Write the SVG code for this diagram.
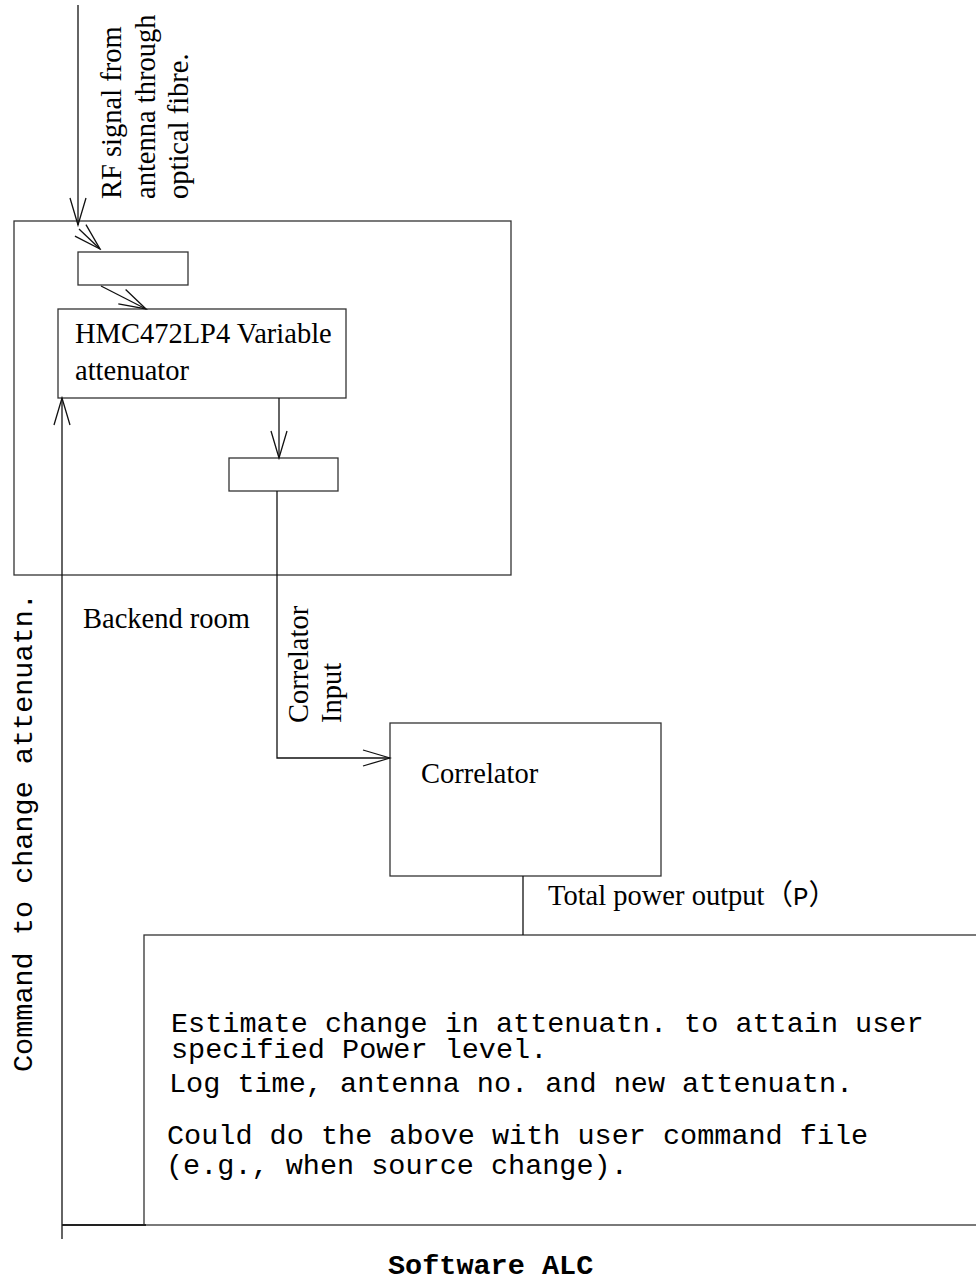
<svg xmlns="http://www.w3.org/2000/svg" width="976" height="1282" viewBox="0 0 976 1282">
<style>
.box{fill:none;stroke:#333;stroke-width:1.3}
.ln{fill:none;stroke:#111;stroke-width:1.3}
.serif{font-family:"Liberation Serif","Times New Roman",serif;font-size:28.5px;fill:#000}
.mono{font-family:"Liberation Mono","Courier New",monospace;font-size:28.5px;fill:#000}
.bold{font-weight:bold}
</style>
<defs>
<marker id="arr" markerUnits="userSpaceOnUse" markerWidth="30" markerHeight="18" viewBox="0 0 30 18" refX="28" refY="9" orient="auto">
<path d="M1,1 L28,9 L1,17" fill="none" stroke="#111" stroke-width="1.3"/>
</marker>
</defs>
<rect width="976" height="1282" fill="#fff"/>

<g id="backend-room">
<rect class="box" x="14" y="221" width="497" height="354"/>
<text class="serif" x="83" y="628">Backend room</text>
</g>

<g id="input-block">
<rect class="box" x="78" y="252" width="110" height="33"/>
</g>

<g id="attenuator">
<rect class="box" x="58" y="309" width="288" height="89"/>
<text class="serif" x="75" y="343">HMC472LP4 Variable</text>
<text class="serif" x="75" y="380">attenuator</text>
</g>

<g id="output-block">
<rect class="box" x="229" y="458" width="109" height="33"/>
</g>

<g id="correlator">
<rect class="box" x="390" y="723" width="271" height="153"/>
<text class="serif" x="421" y="783">Correlator</text>
</g>

<g id="software-alc">
<rect class="box" x="144" y="935" width="840" height="290"/>
<text class="mono"><tspan x="171" y="1032">Estimate change in attenuatn. to attain user</tspan><tspan x="171" y="1058">specified Power level.</tspan></text>
<text class="mono" x="169" y="1092">Log time, antenna no. and new attenuatn.</text>
<text class="mono"><tspan x="167" y="1144">Could do the above with user command file</tspan><tspan x="166" y="1174">(e.g., when source change).</tspan></text>
<text class="mono bold" x="388" y="1274">Software ALC</text>
</g>

<g id="connectors">
<line class="ln" x1="78" y1="5" x2="78" y2="225" marker-end="url(#arr)"/>
<line class="ln" x1="79" y1="229" x2="100" y2="249" marker-end="url(#arr)"/>
<line class="ln" x1="101" y1="286" x2="146" y2="309" marker-end="url(#arr)"/>
<line class="ln" x1="279" y1="398" x2="279" y2="458" marker-end="url(#arr)"/>
<polyline class="ln" points="277,491 277,758 390,758" marker-end="url(#arr)"/>
<line class="ln" x1="62" y1="1239" x2="62" y2="398" marker-end="url(#arr)"/>
<line class="ln" x1="523" y1="876" x2="523" y2="935"/>
<line x1="62" y1="1225" x2="146" y2="1225" stroke="#222" stroke-width="2.2"/>
</g>

<g id="labels">
<text class="serif" transform="translate(121,199) rotate(-90)">RF signal from</text>
<text class="serif" transform="translate(155,199) rotate(-90)">antenna through</text>
<text class="serif" transform="translate(188,199) rotate(-90)">optical fibre.</text>
<text class="serif" transform="translate(308,723) rotate(-90)">Correlator</text>
<text class="serif" transform="translate(341,723) rotate(-90)">Input</text>
<text class="mono" transform="translate(32,1072) rotate(-90)">Command to change attenuatn.</text>
<text class="serif" x="548" y="905">Total power output<tspan font-family="'Noto Sans CJK SC',sans-serif">（</tspan><tspan font-family="'Liberation Mono',monospace" font-size="26">P</tspan><tspan font-family="'Noto Sans CJK SC',sans-serif">）</tspan></text>
</g>
</svg>
